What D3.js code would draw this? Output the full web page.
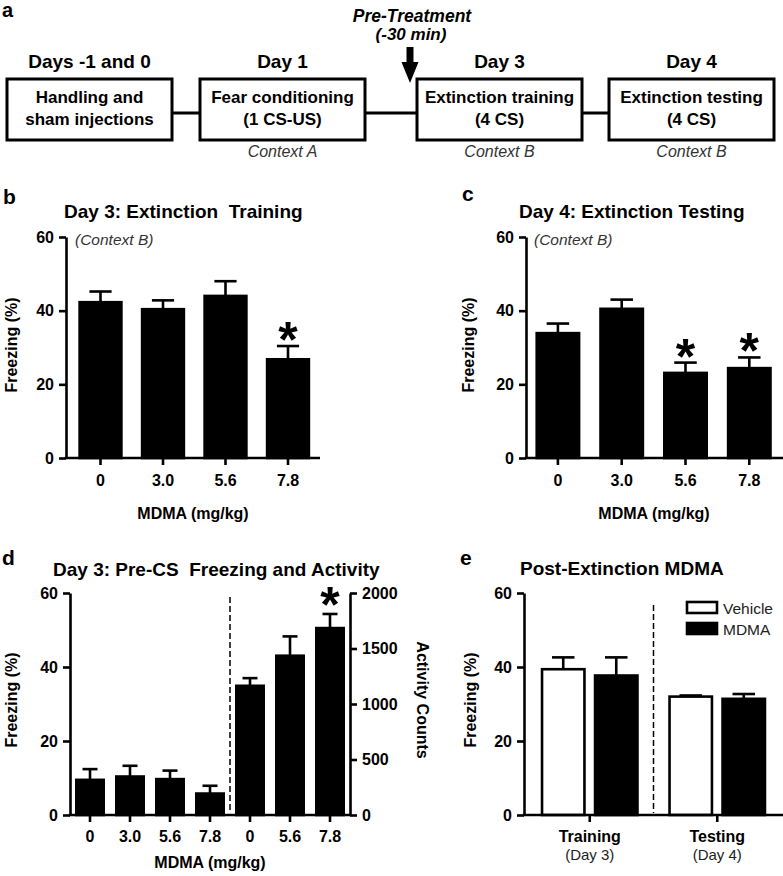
<!DOCTYPE html>
<html><head><meta charset="utf-8">
<script src="https://cdn.jsdelivr.net/npm/d3@7"></script>
<style>
html,body{margin:0;padding:0;background:#fff;}
svg{display:block;font-family:"Liberation Sans",Arial,sans-serif;}
</style></head><body>
<svg id="fig" width="783" height="876"></svg>
<script>
// ---------- DATA ----------
// Panel a: timeline
const timelineDays = ["Days -1 and 0", "Day 1", "Day 3", "Day 4"];
const timelineLine1 = ["Handling and", "Fear conditioning", "Extinction training", "Extinction testing"];
const timelineLine2 = ["sham injections", "(1 CS-US)", "(4 CS)", "(4 CS)"];
const timelineContext = ["", "Context A", "Context B", "Context B"];
const pretreatLabel = ["Pre-Treatment", "(-30 min)"];

// Panel b: Day 3 extinction training
const doseLabels = ["0", "3.0", "5.6", "7.8"];
const trainingMeans = [42.3, 40.4, 44.0, 26.8];
const trainingErr = [2.9, 2.4, 4.0, 3.6];
const trainingSig = [false, false, false, true];

// Panel c: Day 4 extinction testing
const testingMeans = [33.9, 40.5, 23.1, 24.4];
const testingErr = [2.6, 2.5, 2.8, 2.9];
const testingSig = [false, false, true, true];

// Panel d: pre-CS freezing and activity
const preCSDoseLabels = ["0", "3.0", "5.6", "7.8"];
const preCSFreezing = [9.5, 10.4, 9.7, 5.8];
const preCSFreezingErr = [2.9, 2.9, 2.3, 2.1];
const activityDoseLabels = ["0", "5.6", "7.8"];
const activityCounts = [1164, 1435, 1684];
const activityErr = [69, 174, 127];
const activitySig = [false, false, true];

// Panel e: post-extinction MDMA
const postPhases = ["Training", "Testing"];
const postPhaseDays = ["(Day 3)", "(Day 4)"];
const postSeries = ["Vehicle", "MDMA"];
const vehicleMeans = [39.4, 32.0];
const vehicleErr = [3.2, 0.3];
const mdmaMeans = [37.7, 31.4];
const mdmaErr = [4.9, 1.3];

const freezingTicks = [0, 20, 40, 60];
const activityTicks = [0, 500, 1000, 1500, 2000];

// ---------- DRAWING ----------
const FONT = '"Liberation Sans", Arial, sans-serif';
const svg = d3.select("#fig");
const LW = 2.6;

function txt(g, s, x, y, size, opts = {}) {
  const t = g.append("text").attr("x", x).attr("y", y)
    .attr("font-size", size)
    .attr("font-family", FONT)
    .attr("font-weight", opts.weight || "bold")
    .attr("font-style", opts.style || "normal")
    .attr("fill", opts.fill || "#000")
    .attr("text-anchor", opts.anchor || "start")
    .style("white-space", "pre")
    .text(s);
  if (opts.transform) t.attr("transform", opts.transform);
  return t;
}

function styleAxis(ax, fontSize) {
  ax.attr("font-family", FONT).attr("font-size", fontSize).attr("font-weight", "bold");
  ax.selectAll("path.domain").attr("stroke", "#000").attr("stroke-width", LW);
  ax.selectAll(".tick line").attr("stroke", "#000").attr("stroke-width", LW);
  ax.selectAll(".tick text").attr("fill", "#000");
}

function yAxisLeft(g, y, x, ticks) {
  const ax = g.append("g").attr("transform", `translate(${x},0)`)
    .call(d3.axisLeft(y).tickValues(ticks).tickSize(7).tickSizeOuter(0).tickPadding(5).tickFormat(d3.format("d")));
  styleAxis(ax, 16);
  return ax;
}

function xAxisBottom(g, x, y0, xStart, xEnd, pad) {
  const ax = g.append("g").attr("transform", `translate(0,${y0})`)
    .call(d3.axisBottom(x).tickSize(7).tickSizeOuter(0).tickPadding(pad));
  ax.select("path.domain").remove();
  styleAxis(ax, 16);
  g.append("line").attr("x1", xStart - LW / 2).attr("x2", xEnd).attr("y1", y0).attr("y2", y0)
    .attr("stroke", "#000").attr("stroke-width", LW);
  return ax;
}

function bars(g, cats, vals, errs, x, y, fill, sig, starGap) {
  cats.forEach((c, i) => {
    const x0 = x(c), w = x.bandwidth(), cx = x0 + w / 2;
    const top = y(vals[i]), errTop = y(vals[i] + errs[i]);
    // error bar (upper only)
    g.append("line").attr("x1", cx).attr("x2", cx).attr("y1", top).attr("y2", errTop)
      .attr("stroke", "#000").attr("stroke-width", LW);
    g.append("line").attr("x1", cx - w / 4).attr("x2", cx + w / 4).attr("y1", errTop).attr("y2", errTop)
      .attr("stroke", "#000").attr("stroke-width", LW);
    g.append("rect").attr("x", x0 + 1.3).attr("y", top).attr("width", w - 2.6).attr("height", y(0) - top)
      .attr("fill", fill).attr("stroke", "#000").attr("stroke-width", LW);
    if (sig && sig[i]) {
      txt(g, "*", cx, errTop + (starGap || 11), 50, { anchor: "middle" });
    }
  });
}

// ===== Panel a =====
const ga = svg.append("g");
txt(ga, "a", 2, 17, 20);
const boxLeft = [7, 200, 417, 609], boxW = 165, boxTop = 79, boxH = 61, connY = 113;
for (let i = 0; i < 3; i++) {
  ga.append("line").attr("x1", boxLeft[i] + boxW).attr("x2", boxLeft[i + 1])
    .attr("y1", connY).attr("y2", connY).attr("stroke", "#000").attr("stroke-width", 3);
}
timelineDays.forEach((d, i) => {
  const cx = boxLeft[i] + boxW / 2;
  ga.append("rect").attr("x", boxLeft[i]).attr("y", boxTop).attr("width", boxW).attr("height", boxH)
    .attr("fill", "#fff").attr("stroke", "#000").attr("stroke-width", 3);
  txt(ga, d, cx, 68, 19, { anchor: "middle" });
  txt(ga, timelineLine1[i], cx, 103, 17, { anchor: "middle" });
  txt(ga, timelineLine2[i], cx, 125, 17, { anchor: "middle" });
  if (timelineContext[i]) txt(ga, timelineContext[i], cx, 157, 16, { anchor: "middle", weight: "normal", style: "italic", fill: "#333" });
});
txt(ga, pretreatLabel[0], 412, 22, 17.5, { anchor: "middle", style: "italic" });
txt(ga, pretreatLabel[1], 411, 40, 17, { anchor: "middle", style: "italic" });
ga.append("rect").attr("x", 406.5).attr("y", 47).attr("width", 7).attr("height", 17).attr("fill", "#000");
ga.append("path").attr("d", d3.line()([[401.5, 62], [418.5, 62], [410, 83]]) + "Z").attr("fill", "#000");

// ===== Panel b =====
const gb = svg.append("g");
txt(gb, "b", 3, 204, 21);
txt(gb, "Day 3: Extinction  Training", 64, 218, 19);
const yb = d3.scaleLinear().domain([0, 60]).range([458, 237]);
const xb = d3.scaleBand().domain(doseLabels).range([69.25, 319.25]).paddingInner(0.29).paddingOuter(0.145);
bars(gb, doseLabels, trainingMeans, trainingErr, xb, yb, "#000", trainingSig);
yAxisLeft(gb, yb, 66, freezingTicks);
xAxisBottom(gb, xb, 458, 66, 320, 10);
txt(gb, "(Context B)", 75, 245, 15.5, { weight: "normal", style: "italic", fill: "#333" });
txt(gb, "Freezing (%)", 0, 0, 16, { anchor: "middle", transform: "translate(17,345) rotate(-90)" });
txt(gb, "MDMA (mg/kg)", 193, 519, 16, { anchor: "middle" });

// ===== Panel c =====
const gc = svg.append("g");
txt(gc, "c", 462, 201, 21);
txt(gc, "Day 4: Extinction Testing", 519, 218, 19);
const yc = d3.scaleLinear().domain([0, 60]).range([458, 237]);
const xc = d3.scaleBand().domain(doseLabels).range([526, 781.2]).paddingInner(0.295).paddingOuter(0.1475);
bars(gc, doseLabels, testingMeans, testingErr, xc, yc, "#000", testingSig);
yAxisLeft(gc, yc, 526, freezingTicks);
xAxisBottom(gc, xc, 458, 526, 783, 10);
txt(gc, "(Context B)", 534, 245, 15.5, { weight: "normal", style: "italic", fill: "#333" });
txt(gc, "Freezing (%)", 0, 0, 16, { anchor: "middle", transform: "translate(474,345) rotate(-90)" });
txt(gc, "MDMA (mg/kg)", 654, 519, 16, { anchor: "middle" });

// ===== Panel d =====
const gd = svg.append("g");
txt(gd, "d", 2, 565, 21);
txt(gd, "Day 3: Pre-CS  Freezing and Activity", 53, 576, 19);
const yd = d3.scaleLinear().domain([0, 60]).range([815, 593]);
const ydR = d3.scaleLinear().domain([0, 2000]).range([815, 593]);
const dCats = preCSDoseLabels.map((d, i) => "f" + i).concat(activityDoseLabels.map((d, i) => "a" + i));
const dLabels = preCSDoseLabels.concat(activityDoseLabels);
const xd = d3.scaleBand().domain(dCats).range([70, 350]).paddingInner(0.25).paddingOuter(0.125);
bars(gd, dCats.slice(0, 4), preCSFreezing, preCSFreezingErr, xd, yd, "#000", null);
bars(gd, dCats.slice(4), activityCounts, activityErr, xd, ydR, "#000", activitySig, 8);
// divider
const dDiv = (xd(dCats[3]) + xd.bandwidth() + xd(dCats[4])) / 2;
gd.append("line").attr("x1", dDiv).attr("x2", dDiv).attr("y1", 597).attr("y2", 813)
  .attr("stroke", "#000").attr("stroke-width", 1.5).attr("stroke-dasharray", "6,3");
yAxisLeft(gd, yd, 70, freezingTicks);
const axR = gd.append("g").attr("transform", "translate(350,0)")
  .call(d3.axisRight(ydR).tickValues(activityTicks).tickSize(7).tickSizeOuter(0).tickPadding(5).tickFormat(d3.format("d")));
styleAxis(axR, 16);
const axDx = xAxisBottom(gd, xd, 815, 70, 350, 9);
axDx.selectAll(".tick text").text((d, i) => dLabels[i]);
txt(gd, "Freezing (%)", 0, 0, 16, { anchor: "middle", transform: "translate(17,700) rotate(-90)" });
txt(gd, "Activity Counts", 0, 0, 16, { anchor: "middle", transform: "translate(417,700) rotate(90)" });
txt(gd, "MDMA (mg/kg)", 210, 868, 16, { anchor: "middle" });

// ===== Panel e =====
const ge = svg.append("g");
txt(ge, "e", 460, 565, 21);
txt(ge, "Post-Extinction MDMA", 520, 575, 19);
const ye = d3.scaleLinear().domain([0, 60]).range([815, 593]);
const xe = d3.scaleBand().domain(postPhases).range([526, 781]).padding(0);
const xeIn = d3.scaleBand().domain(postSeries).range([0, xe.bandwidth()]).paddingInner(0.151).paddingOuter(0.278);
const seriesMeans = { Vehicle: vehicleMeans, MDMA: mdmaMeans };
const seriesErr = { Vehicle: vehicleErr, MDMA: mdmaErr };
const seriesFill = { Vehicle: "#fff", MDMA: "#000" };
postPhases.forEach((p, pi) => {
  const gp = ge.append("g").attr("transform", `translate(${xe(p)},0)`);
  postSeries.forEach(s => {
    bars(gp, [s], [seriesMeans[s][pi]], [seriesErr[s][pi]], xeIn, ye, seriesFill[s], null);
  });
});
const eDiv = xe(postPhases[1]);
ge.append("line").attr("x1", eDiv).attr("x2", eDiv).attr("y1", 605).attr("y2", 813)
  .attr("stroke", "#000").attr("stroke-width", 1.5).attr("stroke-dasharray", "6,3");
yAxisLeft(ge, ye, 524, freezingTicks);
xAxisBottom(ge, xe, 815, 524, 783, 9);
postPhases.forEach((p, i) => {
  txt(ge, postPhaseDays[i], xe(p) + xe.bandwidth() / 2, 860, 15, { anchor: "middle", weight: "normal", fill: "#222" });
});
txt(ge, "Freezing (%)", 0, 0, 16, { anchor: "middle", transform: "translate(476,700) rotate(-90)" });
// legend
postSeries.forEach((s, i) => {
  const ly = 602 + i * 21;
  ge.append("rect").attr("x", 687).attr("y", ly).attr("width", 30).attr("height", 11)
    .attr("fill", seriesFill[s]).attr("stroke", "#000").attr("stroke-width", 2.6);
  txt(ge, s, 723, ly + 12, 15.5, { weight: "normal", fill: "#222" });
});
</script>
</body></html>
